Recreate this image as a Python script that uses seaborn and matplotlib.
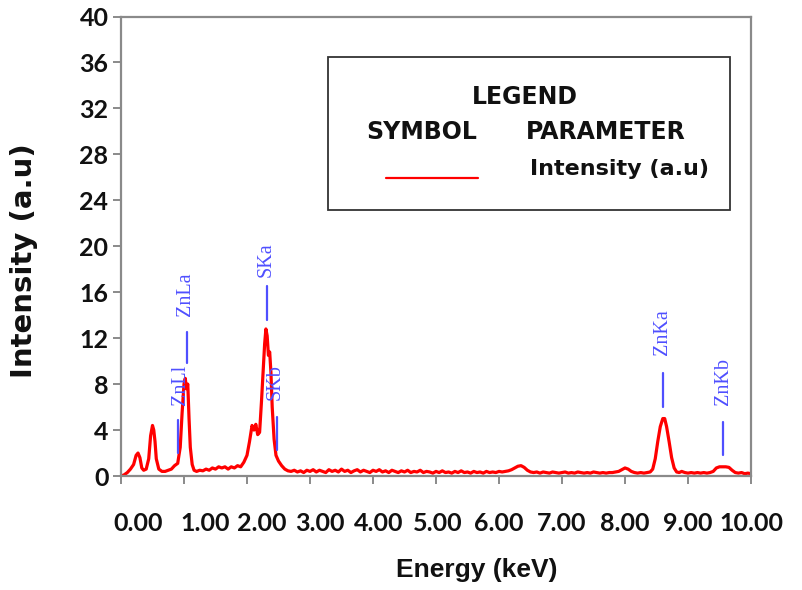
import matplotlib
matplotlib.use("Agg")
import matplotlib.pyplot as plt
import matplotlib.transforms as mtransforms
from matplotlib.patches import Rectangle
from matplotlib.lines import Line2D
import pandas as pd
import seaborn as sns

# ---------------- data ----------------
energy = [0.00, 0.05, 0.10, 0.15, 0.20, 0.24, 0.27, 0.30, 0.33, 0.36, 0.40, 0.44, 0.47, 0.50,
          0.52, 0.54, 0.56, 0.60, 0.65, 0.70, 0.75, 0.80, 0.85, 0.90, 0.94, 0.97, 1.00, 1.02,
          1.04, 1.06, 1.08, 1.10, 1.13, 1.16, 1.20, 1.25, 1.30, 1.35, 1.40, 1.45, 1.50, 1.55,
          1.60, 1.65, 1.70, 1.75, 1.80, 1.85, 1.90, 1.95, 2.00, 2.04, 2.08, 2.11, 2.14, 2.17,
          2.20, 2.23, 2.26, 2.28, 2.30, 2.32, 2.34, 2.36, 2.38, 2.40, 2.43, 2.46, 2.50, 2.55,
          2.60, 2.65, 2.70, 2.75, 2.80, 2.85, 2.90, 2.95, 3.00, 3.05, 3.10, 3.15, 3.20, 3.25,
          3.30, 3.35, 3.40, 3.45, 3.50, 3.55, 3.60, 3.65, 3.70, 3.75, 3.80, 3.85, 3.90, 3.95,
          4.00, 4.05, 4.10, 4.15, 4.20, 4.25, 4.30, 4.35, 4.40, 4.45, 4.50, 4.55, 4.60, 4.65,
          4.70, 4.75, 4.80, 4.85, 4.90, 4.95, 5.00, 5.05, 5.10, 5.15, 5.20, 5.25, 5.30, 5.35,
          5.40, 5.45, 5.50, 5.55, 5.60, 5.65, 5.70, 5.75, 5.80, 5.85, 5.90, 5.95, 6.00, 6.05,
          6.10, 6.15, 6.20, 6.25, 6.30, 6.35, 6.40, 6.45, 6.50, 6.55, 6.60, 6.65, 6.70, 6.75,
          6.80, 6.85, 6.90, 6.95, 7.00, 7.05, 7.10, 7.15, 7.20, 7.25, 7.30, 7.35, 7.40, 7.45,
          7.50, 7.55, 7.60, 7.65, 7.70, 7.75, 7.80, 7.85, 7.90, 7.95, 8.00, 8.05, 8.10, 8.15,
          8.20, 8.25, 8.30, 8.35, 8.40, 8.44, 8.48, 8.52, 8.56, 8.60, 8.63, 8.66, 8.70, 8.74,
          8.78, 8.82, 8.86, 8.90, 8.95, 9.00, 9.05, 9.10, 9.15, 9.20, 9.25, 9.30, 9.35, 9.40,
          9.45, 9.50, 9.55, 9.60, 9.65, 9.70, 9.75, 9.80, 9.85, 9.90, 9.95, 10.00]
intensity = [0.00, 0.10, 0.30, 0.60, 1.00, 1.80, 2.00, 1.60, 0.70, 0.50, 0.60, 1.50, 3.50, 4.40,
             4.00, 3.00, 1.50, 0.60, 0.40, 0.40, 0.50, 0.60, 0.90, 1.10, 2.50, 5.50, 8.00, 8.50,
             7.60, 8.00, 5.00, 2.50, 1.00, 0.50, 0.40, 0.50, 0.45, 0.60, 0.50, 0.70, 0.60, 0.80,
             0.70, 0.80, 0.60, 0.80, 0.70, 0.90, 0.80, 1.20, 1.80, 3.00, 4.40, 4.00, 4.50, 3.60,
             3.80, 6.50, 9.50, 11.50, 12.80, 12.20, 10.50, 10.80, 9.00, 6.00, 3.20, 1.80, 1.30, 0.90,
             0.60, 0.45, 0.40, 0.50, 0.35, 0.45, 0.30, 0.50, 0.40, 0.55, 0.35, 0.50, 0.40, 0.30,
             0.55, 0.40, 0.50, 0.35, 0.60, 0.40, 0.50, 0.30, 0.45, 0.55, 0.35, 0.50, 0.40, 0.30,
             0.50, 0.40, 0.55, 0.35, 0.45, 0.30, 0.50, 0.40, 0.30, 0.45, 0.35, 0.50, 0.30, 0.40,
             0.35, 0.50, 0.30, 0.40, 0.35, 0.25, 0.40, 0.30, 0.45, 0.30, 0.35, 0.25, 0.40, 0.30,
             0.45, 0.30, 0.35, 0.25, 0.40, 0.30, 0.35, 0.25, 0.40, 0.30, 0.35, 0.30, 0.40, 0.35,
             0.40, 0.45, 0.55, 0.70, 0.85, 0.90, 0.75, 0.50, 0.35, 0.30, 0.35, 0.25, 0.35, 0.30,
             0.25, 0.35, 0.30, 0.25, 0.30, 0.35, 0.25, 0.30, 0.25, 0.35, 0.30, 0.25, 0.30, 0.25,
             0.35, 0.30, 0.25, 0.30, 0.25, 0.30, 0.30, 0.35, 0.40, 0.55, 0.70, 0.60, 0.40, 0.30,
             0.25, 0.30, 0.25, 0.30, 0.35, 0.60, 1.50, 3.00, 4.30, 5.00, 5.00, 4.30, 3.00, 1.60,
             0.70, 0.35, 0.30, 0.40, 0.30, 0.25, 0.30, 0.25, 0.30, 0.25, 0.30, 0.25, 0.30, 0.40,
             0.70, 0.80, 0.80, 0.80, 0.75, 0.50, 0.30, 0.25, 0.30, 0.20, 0.25, 0.20]

peak_labels = ["ZnLl", "ZnLa", "SKa", "SKb", "ZnKa", "ZnKb"]
label_x = [0.94, 1.02, 2.30, 2.45, 8.60, 9.56]
label_y = [7.9, 15.8, 18.8, 8.2, 12.5, 8.2]
marker_x = [0.905, 1.05, 2.32, 2.47, 8.60, 9.56]
marker_lo = [2.0, 9.8, 13.6, 2.3, 6.0, 1.8]
marker_hi = [4.9, 12.5, 16.5, 5.1, 9.0, 4.7]

x_ticks = [0, 1, 2, 3, 4, 5, 6, 7, 8, 9, 10]
y_ticks = [0, 4, 8, 12, 16, 20, 24, 28, 32, 36, 40]

df = pd.DataFrame({"Energy": energy, "Intensity": intensity})

# ---------------- figure ----------------
sns.set_theme(style="white")
plt.rcParams["font.family"] = ["DejaVu Sans"]

fig = plt.figure(figsize=(8.03, 5.90), dpi=100)
ax = fig.add_axes([121 / 803, 1 - 476 / 590, 630 / 803, 459.5 / 590])

sns.lineplot(data=df, x="Energy", y="Intensity", ax=ax, color="#ff0000",
             linewidth=2.3, estimator=None, sort=False)

ax.set_xlim(0, 10)
ax.set_ylim(0, 40)
ax.set_xticks(x_ticks)
ax.set_xticklabels([f"{v:.2f}" for v in x_ticks])
ax.set_yticks(y_ticks)
ax.set_yticklabels([str(v) for v in y_ticks])

spine_col = "#8a8a8a"
for s in ax.spines.values():
    s.set_visible(True)
    s.set_color(spine_col)
    s.set_linewidth(1.6)

ax.tick_params(axis="both", which="both", direction="out", color=spine_col, width=1.4)
ax.tick_params(axis="y", length=6, pad=3, left=True, labelsize=18)
ax.tick_params(axis="x", length=6, pad=20, bottom=True, labelsize=18)
for lab in ax.get_xticklabels() + ax.get_yticklabels():
    lab.set_fontfamily(["Lato", "DejaVu Sans"])
    lab.set_fontweight("bold")
    lab.set_color("#111111")

# the reference's first x tick labels sit to the right of their ticks
label_shift_px = [17, 21, 15, 10, 6, 2, 0, 0, 0, 0, 0]
for lab, dx in zip(ax.get_xticklabels(), label_shift_px):
    lab.set_transform(lab.get_transform() +
                      mtransforms.ScaledTranslation(dx / 100, 0, fig.dpi_scale_trans))

ax.set_xlabel("Energy (keV)", fontsize=19, fontweight="bold",
              family=["Liberation Sans", "DejaVu Sans"], color="#111111")
ax.xaxis.set_label_coords(0.565, -0.178)
ax.xaxis.label.set_va("top")
ax.set_ylabel("Intensity (a.u)", fontsize=21, fontweight="bold",
              family=["DejaVu Sans"], color="#111111")
ax.yaxis.set_label_coords(-0.132, 0.468)

# peak annotations
blue = "#4f4fff"
for name, tx, ty, mx, lo, hi in zip(peak_labels, label_x, label_y, marker_x, marker_lo, marker_hi):
    ax.text(tx, ty, name, rotation=90, ha="center", va="center", rotation_mode="anchor",
            fontsize=14.5, color=blue, family=["Liberation Serif", "DejaVu Serif"])
    ax.plot([mx, mx], [lo, hi], color=blue, lw=1.6)

# legend box (figure pixel coordinates -> fraction)
W, H = 803, 590
def fx(px):
    return px / W
def fy(py):
    return 1 - py / H

rect = Rectangle((fx(328), fy(210)), (730 - 328) / W, (210 - 57) / H,
                 transform=fig.transFigure, fill=False, edgecolor="#333333", lw=1.3)
fig.add_artist(rect)
legfont = dict(fontweight="bold", family=["DejaVu Sans"], color="#111111",
               ha="center", va="center", transform=fig.transFigure)
fig.text(fx(525), fy(97), "LEGEND", fontsize=17, **legfont)
fig.text(fx(422), fy(132), "SYMBOL", fontsize=17, **legfont)
fig.text(fx(606), fy(132), "PARAMETER", fontsize=17, **legfont)
fig.text(fx(620), fy(169), "Intensity (a.u)", fontsize=16, **legfont)
fig.add_artist(Line2D([fx(386), fx(478)], [fy(178), fy(178)], transform=fig.transFigure,
                      color="#ff0000", lw=1.6))

fig.savefig("out.png", dpi=100)
